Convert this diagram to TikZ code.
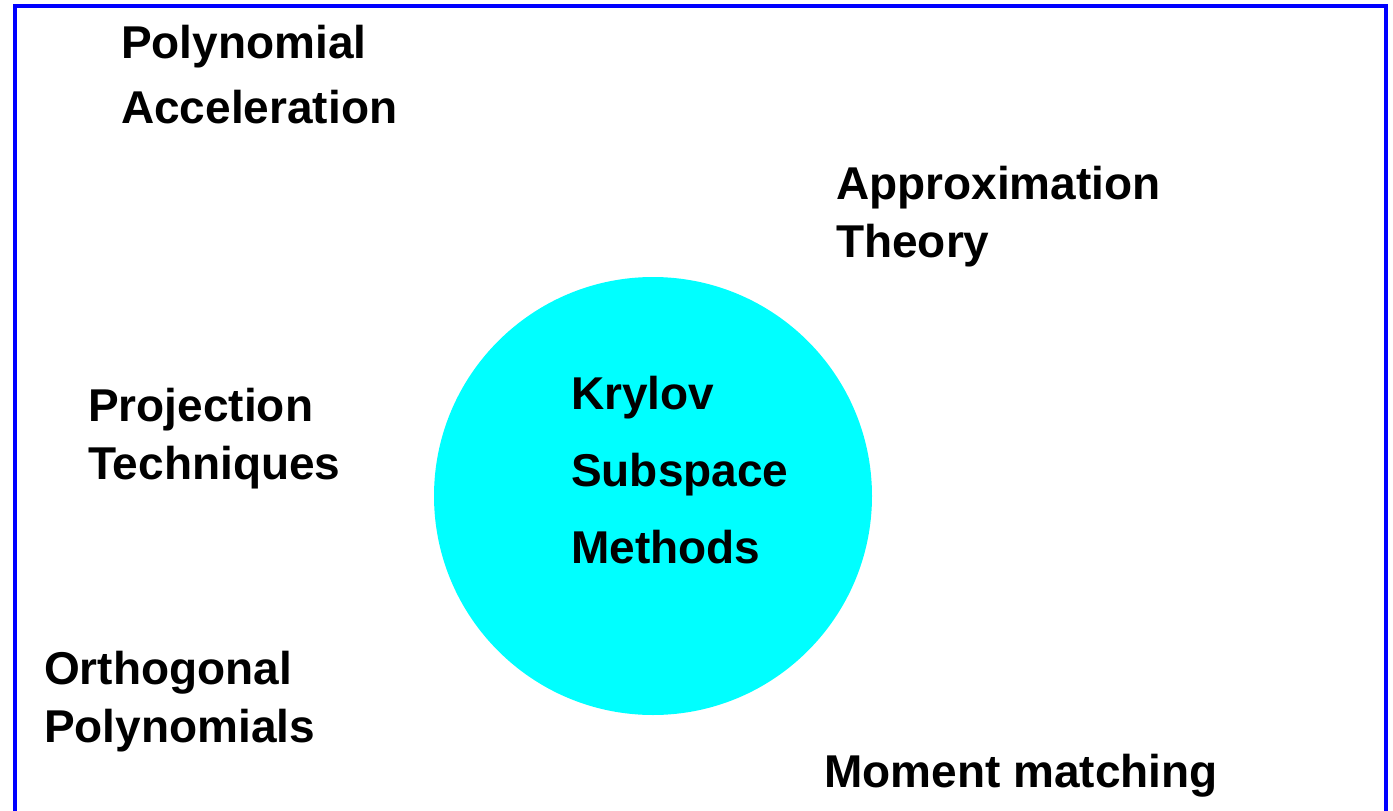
\documentclass[tikz,border=0pt]{standalone}
\usepackage{fontspec}
\setmainfont{Liberation Sans}
\usetikzlibrary{positioning}

\definecolor{frameblue}{RGB}{0,0,255}
\definecolor{diskcyan}{RGB}{0,255,255}

\begin{document}
\begin{tikzpicture}[
    % GLOBAL CFG
    x=1pt, y=-1pt,
    % Styles
    frame/.style={% For the blue border
        draw=frameblue,
        line width=4pt,
        },
    disk/.style={% For the cyan disc in the middle
        circle,
        fill=diskcyan,
        minimum size=438pt,
        inner sep=0pt,
        },
    topic/.style={% For the texts round the disc (base = last line)
        anchor=base west,
        align=left,
        inner sep=0pt,
        font=\bfseries\fontsize{46}{58}\selectfont,
        },
    ]

    \useasboundingbox (0,0) rectangle (1393,811);

    % Draw the frame (its bottom side is off the page)
    \draw [frame] (15,6) rectangle (1386,840);

    % Draw the disc
    \node [disk] (disk) at (653,496) {};

    % Texts named after their first word
    \node [topic, font=\bfseries\fontsize{46}{77}\selectfont] (krylov) at (571,563) {Krylov\\Subspace\\Methods};
    \node [topic, font=\bfseries\fontsize{46}{65}\selectfont] (polynomial) at (121,123) {Polynomial\\Acceleration};
    \node [topic] (approximation) at (836,257) {Approximation\\Theory};
    \node [topic] (projection) at (88,479) {Projection\\Techniques};
    \node [topic] (orthogonal) at (44,742) {Orthogonal\\Polynomials};
    \node [topic] (moment) at (824,787) {Moment matching};

\end{tikzpicture}
\end{document}
